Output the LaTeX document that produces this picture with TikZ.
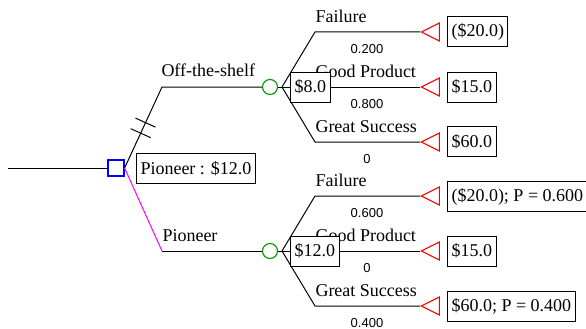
\documentclass[tikz,border=0pt]{standalone}
\usepackage{fontspec}
\setmainfont{Liberation Serif}
\newfontfamily\probfont{Liberation Sans}
\usetikzlibrary{shapes.geometric,calc}
\definecolor{chancegreen}{RGB}{0,150,0}
\definecolor{branchpink}{RGB}{255,0,255}
\begin{document}
\begin{tikzpicture}[x=1pt,y=-1pt,
  line width=1pt,
  every node/.style={font=\fontsize{18}{20}\selectfont},
  decision/.style={draw=blue, rectangle, minimum size=16pt, inner sep=0pt, line width=1.2pt},
  chance/.style={draw=chancegreen, circle, minimum size=15pt, inner sep=0pt, line width=1.1pt},
  terminal/.style={draw=red, isosceles triangle, shape border rotate=180, isosceles triangle stretches, minimum height=18pt, minimum width=18pt, inner sep=0pt, line width=1.1pt},
  valbox/.style={draw, fill=white, minimum height=30pt, inner xsep=4pt, inner ysep=0pt},
  blabel/.style={anchor=base west, inner sep=0pt},
  plabel/.style={anchor=base, inner sep=0pt, font=\probfont\fontsize{13}{15}\selectfont},
  ]
\useasboundingbox (0,0) rectangle (586,329);
\clip (0,0) rectangle (586,329);

% nodes and coordinates
\coordinate (s) at (8,168);
\node[decision] (d) at (116,168) {};
\coordinate (k1) at (162,87);
\coordinate (k2) at (162,251);
\node[chance] (c1) at (270,87) {};
\node[chance] (c2) at (270,251) {};
\coordinate (f1) at (282,87);
\coordinate (f2) at (282,251);
\coordinate (a1) at (315,32);
\coordinate (a3) at (315,142);
\coordinate (b1) at (315,196);
\coordinate (b3) at (315,306);
\node[terminal, anchor=apex] (t11) at (420,32) {};
\node[terminal, anchor=apex] (t12) at (420,87) {};
\node[terminal, anchor=apex] (t13) at (420,142) {};
\node[terminal, anchor=apex] (t21) at (420,196) {};
\node[terminal, anchor=apex] (t22) at (420,251) {};
\node[terminal, anchor=apex] (t23) at (420,306) {};

% connectors
\draw (s) -- (d);
\draw (d.east) -- (k1) -- (c1);
\draw[branchpink] (d.east) -- (k2);
\draw (k2) -- (c2);
\draw (c1) -- (f1);
\draw (c2) -- (f2);
\draw (f1) -- (a1) -- (t11.apex);
\draw (f1) -- (t12.apex);
\draw (f1) -- (a3) -- (t13.apex);
\draw (f2) -- (b1) -- (t21.apex);
\draw (f2) -- (t22.apex);
\draw (f2) -- (b3) -- (t23.apex);

% hash marks on the cut branch
\coordinate (h1) at ($(d.east)!0.56!(k1)$);
\coordinate (h2) at ($(d.east)!0.43!(k1)$);
\draw ($(h1)+(-10,-4.5)$) -- ($(h1)+(10,4.5)$);
\draw ($(h2)+(-10,-4.5)$) -- ($(h2)+(10,4.5)$);

% branch labels
\node[blabel] (lo) at (161,77) {Off-the-shelf};
\node[blabel] (lp) at (162,241) {Pioneer};
\node[blabel] (l11) at (315,22.5) {Failure};
\node[blabel] (l12) at (315,77.5) {Good Product};
\node[blabel] (l13) at (315,132) {Great Success};
\node[blabel] (l21) at (315,186.5) {Failure};
\node[blabel] (l22) at (315,241.5) {Good Product};
\node[blabel] (l23) at (315,296) {Great Success};

% probabilities
\node[plabel] (p11) at (367,53) {0.200};
\node[plabel] (p12) at (367,108) {0.800};
\node[plabel] (p13) at (367,163) {0};
\node[plabel] (p21) at (367,217) {0.600};
\node[plabel] (p22) at (367,272) {0};
\node[plabel] (p23) at (367,327) {0.400};

% value boxes
\node[valbox, anchor=west] (dv) at (136,168.5) {Pioneer : \$12.0};
\node[valbox, anchor=west] (cv1) at (290,87) {\$8.0};
\node[valbox, anchor=west] (cv2) at (290,251) {\$12.0};
\node[valbox, anchor=west] (v11) at (447,31.5) {(\$20.0)};
\node[valbox, anchor=west] (v12) at (447,87) {\$15.0};
\node[valbox, anchor=west] (v13) at (447,141.5) {\$60.0};
\node[valbox, anchor=west] (v21) at (447,196.5) {(\$20.0); P = 0.600};
\node[valbox, anchor=west] (v22) at (447,251) {\$15.0};
\node[valbox, anchor=west] (v23) at (447,306) {\$60.0; P = 0.400};
\end{tikzpicture}
\end{document}
